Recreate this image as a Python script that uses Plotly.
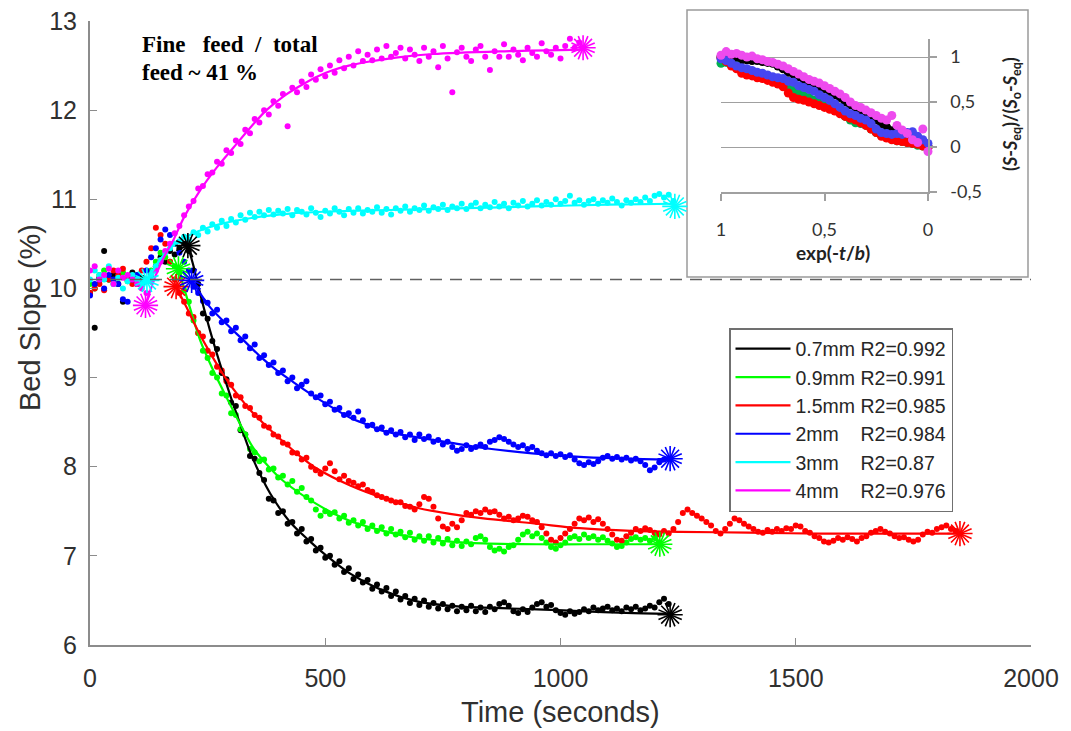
import plotly.graph_objects as go

# ---------------- main chart data ----------------
series_names = ["0.7mm R2=0.992", "0.9mm R2=0.991", "1.5mm R2=0.985",
                "2mm\u00a0\u00a0\u00a0\u00a0R2=0.984", "3mm\u00a0\u00a0\u00a0\u00a0R2=0.87",
                "4mm\u00a0\u00a0\u00a0\u00a0R2=0.976"]
series_colors = ["#000000", "#00FF00", "#FF0000", "#0000FF", "#00FFFF", "#FF00FF"]

# measured dots (10 s sampling): pre-period starting at t=0, post-period at given start
black_pre = [9.95, 9.56, 10.12, 10.42, 10.1, 10.15, 10.05, 9.85, 10.1, 10.18, 10.05,
             10.12, 10.08, 10.15, 10.25, 10.35, 10.3, 10.42, 10.38, 10.45, 10.5]
black_post_start = 210
black_post = [10.42, 10.2, 10.05, 9.72, 9.66, 9.41, 9.32, 9.05, 8.98, 8.72, 8.68, 8.41, 8.36,
              8.12, 8.09, 7.93, 7.85, 7.64, 7.62, 7.48, 7.5, 7.36, 7.38, 7.25, 7.3, 7.16, 7.19,
              7.06, 7.09, 6.98, 7.0, 6.9, 6.94, 6.82, 6.86, 6.74, 6.79, 6.7, 6.73, 6.63, 6.68,
              6.6, 6.64, 6.55, 6.6, 6.51, 6.55, 6.47, 6.52, 6.45, 6.5, 6.43, 6.47, 6.41, 6.46,
              6.4, 6.44, 6.38, 6.43, 6.39, 6.44, 6.38, 6.42, 6.37, 6.43, 6.4, 6.46, 6.48, 6.44,
              6.38, 6.36, 6.4, 6.37, 6.42, 6.46, 6.48, 6.43, 6.45, 6.39, 6.36, 6.34, 6.38, 6.35,
              6.37, 6.4, 6.38, 6.42, 6.39, 6.41, 6.43, 6.39, 6.41, 6.38, 6.42, 6.4, 6.43, 6.39,
              6.41, 6.44, 6.42, 6.48, 6.52, 6.46]

green_pre = [10.05, 10.0, 10.15, 10.2, 10.1, 10.05, 10.12, 10.18, 10.08, 10.1, 10.15, 10.05,
             10.1, 10.2, 10.3, 10.4, 10.35, 10.3, 10.25]
green_post_start = 190
green_post = [10.18, 9.98, 9.85, 9.64, 9.5, 9.3, 9.22, 9.05, 9.0, 8.82, 8.8, 8.6, 8.58, 8.42,
              8.36, 8.2, 8.16, 8.06, 8.08, 7.97, 7.98, 7.88, 7.9, 7.8, 7.84, 7.72, 7.76, 7.66,
              7.62, 7.52, 7.45, 7.5, 7.47, 7.49, 7.42, 7.45, 7.37, 7.4, 7.34, 7.38, 7.3, 7.34,
              7.28, 7.32, 7.25, 7.3, 7.24, 7.27, 7.21, 7.26, 7.18, 7.22, 7.17, 7.22, 7.15, 7.2,
              7.14, 7.19, 7.12, 7.17, 7.11, 7.16, 7.13, 7.2, 7.22, 7.18, 7.1, 7.06, 7.08, 7.05,
              7.1, 7.12, 7.18, 7.24, 7.27, 7.22, 7.25, 7.2, 7.15, 7.1, 7.08, 7.12, 7.15, 7.2,
              7.22, 7.19, 7.24, 7.2, 7.22, 7.18, 7.21, 7.17, 7.14, 7.1, 7.11, 7.15, 7.19, 7.21,
              7.18, 7.2, 7.17, 7.2, 7.15]

red_pre = [9.95, 10.0, 10.05, 9.98, 10.1, 10.2, 10.15, 10.22, 10.1, 10.05, 10.12, 10.2, 10.3,
           10.45, 10.68, 10.6, 10.5, 10.3, 10.1]
red_post_start = 190
red_post = [9.95, 9.85, 9.72, 9.68, 9.5, 9.46, 9.3, 9.26, 9.12, 9.08, 8.96, 8.92, 8.8, 8.78,
            8.68, 8.66, 8.58, 8.55, 8.46, 8.44, 8.36, 8.34, 8.27, 8.25, 8.16, 8.15, 8.08, 8.1,
            8.0, 7.96, 7.92, 7.98, 8.04, 7.95, 7.86, 7.9, 7.84, 7.82, 7.78, 7.8, 7.74, 7.72,
            7.68, 7.66, 7.64, 7.62, 7.6, 7.6, 7.56, 7.55, 7.52, 7.58, 7.66, 7.64, 7.55, 7.42,
            7.33, 7.3, 7.36, 7.32, 7.4, 7.48, 7.46, 7.5, 7.48, 7.52, 7.49, 7.5, 7.46, 7.42,
            7.44, 7.4, 7.42, 7.45, 7.44, 7.4, 7.38, 7.32, 7.25, 7.18, 7.15, 7.2, 7.25, 7.3,
            7.36, 7.42, 7.4, 7.43, 7.38, 7.41, 7.36, 7.3, 7.24, 7.18, 7.17, 7.22, 7.26, 7.3,
            7.28, 7.31, 7.29, 7.26, 7.24, 7.28, 7.25, 7.3, 7.38, 7.48, 7.52, 7.48, 7.45, 7.42,
            7.38, 7.34, 7.28, 7.25, 7.3, 7.36, 7.42, 7.4, 7.36, 7.33, 7.3, 7.27, 7.26, 7.29,
            7.27, 7.3, 7.28, 7.31, 7.3, 7.34, 7.33, 7.28, 7.26, 7.22, 7.2, 7.16, 7.15, 7.17,
            7.2, 7.18, 7.21, 7.19, 7.16, 7.2, 7.22, 7.26, 7.28, 7.3, 7.27, 7.25, 7.22, 7.2,
            7.21, 7.18, 7.16, 7.18, 7.24, 7.27, 7.26, 7.3, 7.32, 7.34, 7.3, 7.28]

blue_pre = [9.92, 10.05, 10.1, 10.0, 10.15, 10.1, 10.05, 9.88, 9.85, 10.1, 10.15, 10.05, 10.2,
            10.35, 10.45, 10.55, 10.66, 10.6, 10.5, 10.4, 10.3, 10.2]
blue_post_start = 220
blue_post = [10.02, 9.95, 9.86, 9.84, 9.72, 9.76, 9.62, 9.64, 9.52, 9.56, 9.42, 9.46, 9.33,
             9.37, 9.22, 9.25, 9.14, 9.17, 9.05, 9.08, 8.96, 9.0, 8.88, 8.92, 8.96, 8.82, 8.78,
             8.8, 8.7, 8.73, 8.64, 8.66, 8.58, 8.6, 8.55, 8.62, 8.52, 8.46, 8.47, 8.42, 8.44,
             8.38, 8.41, 8.36, 8.39, 8.33, 8.36, 8.3, 8.36, 8.31, 8.34, 8.28, 8.3, 8.25, 8.28,
             8.22, 8.18, 8.2, 8.24, 8.2, 8.22, 8.25, 8.22, 8.28, 8.3, 8.33, 8.31, 8.28, 8.25,
             8.22, 8.24, 8.2, 8.22, 8.18, 8.15, 8.13, 8.15, 8.12, 8.14, 8.11, 8.13, 8.08, 8.04,
             8.02, 8.05, 8.03, 8.06, 8.1, 8.12, 8.09, 8.11, 8.08, 8.1, 8.07, 8.09, 8.06, 8.02,
             7.96, 7.99, 8.05, 8.08, 8.09]

cyan_pre = [10.1, 10.2, 10.15, 10.1, 10.25, 10.05, 10.12, 10.0, 10.08, 10.15, 10.1, 10.05, 10.08]
cyan_post_start = 130
cyan_post = [10.15, 10.25, 10.32, 10.4, 10.45, 10.5, 10.53, 10.58, 10.55, 10.63, 10.6, 10.68,
             10.64, 10.72, 10.68, 10.76, 10.7, 10.78, 10.74, 10.82, 10.77, 10.85, 10.8, 10.86,
             10.82, 10.88, 10.83, 10.87, 10.84, 10.89, 10.82, 10.88, 10.86, 10.83, 10.9, 10.85,
             10.8, 10.87, 10.84, 10.9, 10.86, 10.82, 10.89, 10.85, 10.9, 10.84, 10.88, 10.86,
             10.91, 10.85, 10.89, 10.83, 10.9, 10.87, 10.92, 10.86, 10.9, 10.88, 10.93, 10.87,
             10.91, 10.89, 10.94, 10.88, 10.92, 10.9, 10.95, 10.89, 10.93, 10.96, 10.9, 10.94,
             10.91, 10.97, 10.92, 10.95, 10.9, 10.96, 10.93, 10.98, 10.92, 10.95, 10.99, 10.93,
             10.97, 10.94, 11.0, 10.95, 10.98, 11.04, 10.96, 10.99, 10.94, 10.98, 11.0, 10.95,
             10.99, 10.96, 11.01, 10.97, 10.93, 10.99, 10.96, 11.0, 10.97, 11.02, 10.98, 11.04,
             11.06, 11.02, 11.05, 10.98]

magenta_pre = [10.2, 10.25, 10.1, 10.15, 10.22, 10.05, 10.2, 10.12, 10.15, 10.1, 10.05, 10.0]
magenta_post_start = 120
magenta_post = [9.95, 10.08, 10.2, 10.3, 10.42, 10.5, 10.62, 10.7, 10.82, 10.92, 10.98, 11.12,
                11.15, 11.28, 11.3, 11.42, 11.4, 11.55, 11.52, 11.66, 11.62, 11.78, 11.74, 11.9,
                11.86, 12.0, 11.95, 12.1, 12.05, 12.18, 11.82, 12.25, 12.2, 12.32, 12.26, 12.4,
                12.34, 12.46, 12.38, 12.5, 12.42, 12.56, 12.47, 12.6, 12.5, 12.66, 12.55, 12.62,
                12.56, 12.68, 12.58, 12.72, 12.6, 12.64, 12.7, 12.58, 12.68, 12.62, 12.55, 12.7,
                12.6, 12.66, 12.48, 12.72, 12.58, 12.2, 12.65, 12.7, 12.6, 12.55, 12.68, 12.72,
                12.6, 12.45, 12.66, 12.6, 12.74, 12.6, 12.68, 12.62, 12.56, 12.7, 12.64, 12.6,
                12.75, 12.66, 12.62, 12.7, 12.58, 12.72, 12.8, 12.7, 12.76]

# fitted exponential curves (read at selected times)
black_fit_t = [208, 220, 235, 255, 276, 298, 319, 340, 361, 383, 425, 468, 496, 553, 623, 695, 765, 836, 950, 1041, 1140, 1233]
black_fit_v = [10.48, 10.25, 9.92, 9.53, 9.16, 8.8, 8.48, 8.17, 7.92, 7.7, 7.38, 7.16, 7.03, 6.8, 6.61, 6.49, 6.44, 6.42, 6.4, 6.38, 6.36, 6.35]
green_fit_t = [188, 212, 234, 262, 290, 319, 347, 380, 411, 482, 553, 623, 695, 765, 836, 950, 1050, 1211]
green_fit_v = [10.22, 9.79, 9.42, 9.08, 8.78, 8.48, 8.21, 8.0, 7.84, 7.58, 7.39, 7.28, 7.2, 7.16, 7.14, 7.13, 7.13, 7.13]
red_fit_t = [183, 206, 230, 255, 290, 315, 340, 370, 411, 446, 482, 553, 623, 695, 765, 836, 950, 1041, 1150, 1254, 1400, 1550, 1849]
red_fit_v = [10.02, 9.78, 9.52, 9.28, 8.98, 8.8, 8.64, 8.48, 8.28, 8.12, 7.98, 7.79, 7.65, 7.54, 7.47, 7.42, 7.36, 7.31, 7.28, 7.27, 7.26, 7.25, 7.25]
blue_fit_t = [216, 255, 290, 326, 361, 397, 432, 468, 510, 553, 590, 623, 660, 695, 765, 836, 940, 1041, 1140, 1233]
blue_fit_v = [10.09, 9.79, 9.6, 9.42, 9.24, 9.08, 8.95, 8.82, 8.68, 8.55, 8.47, 8.4, 8.36, 8.33, 8.27, 8.21, 8.15, 8.11, 8.09, 8.08]
cyan_fit_t = [121, 150, 180, 212, 250, 283, 355, 425, 495, 637, 800, 942, 1100, 1243]
cyan_fit_v = [10.09, 10.33, 10.5, 10.6, 10.68, 10.73, 10.8, 10.84, 10.86, 10.88, 10.9, 10.92, 10.94, 10.95]
magenta_fit_t = [118, 140, 160, 177, 200, 234, 270, 305, 340, 375, 410, 446, 480, 517, 550, 588, 650, 729, 871, 1048]
magenta_fit_v = [9.82, 10.15, 10.38, 10.54, 10.8, 11.1, 11.36, 11.58, 11.8, 12.0, 12.15, 12.27, 12.37, 12.45, 12.5, 12.54, 12.59, 12.63, 12.66, 12.68]

# start / end markers (asterisks)
start_t = [208, 188, 183, 216, 121, 118]
start_v = [10.48, 10.22, 10.02, 10.09, 10.09, 9.81]
end_t = [1233, 1211, 1849, 1233, 1243, 1048]
end_v = [6.34, 7.13, 7.25, 8.09, 10.92, 12.70]

x_ticks = [0, 500, 1000, 1500, 2000]
y_ticks = [6, 7, 8, 9, 10, 11, 12, 13]
reference_slope = 10.1

# ---------------- inset data ----------------
inset_x = [1.0, 0.975, 0.95, 0.925, 0.9, 0.875, 0.85, 0.825, 0.8, 0.775, 0.75, 0.725, 0.7, 0.675,
           0.65, 0.625, 0.6, 0.575, 0.55, 0.525, 0.5, 0.475, 0.45, 0.425, 0.4, 0.375, 0.35, 0.325,
           0.3, 0.275, 0.25, 0.225, 0.2, 0.175, 0.15, 0.125, 0.1, 0.075, 0.05, 0.025, 0.0]
inset_black = [1.0, 0.99, 0.98, 0.99, 0.97, 0.97, 0.96, 0.96, 0.95, 0.94, 0.93, 0.9, 0.87, 0.83,
               0.81, 0.78, 0.75, 0.72, 0.7, 0.67, 0.65, 0.62, 0.58, 0.55, 0.5, 0.47, 0.44, 0.4,
               0.37, 0.34, 0.3, 0.26, 0.22, 0.18, 0.15, 0.12, 0.09, 0.06, 0.04, 0.02, 0.0]
inset_green = [0.93, 0.94, 0.92, 0.9, 0.87, 0.85, 0.83, 0.81, 0.8, 0.78, 0.76, 0.74, 0.72, 0.68,
               0.64, 0.6, 0.57, 0.55, 0.52, 0.5, 0.47, 0.44, 0.41, 0.38, 0.34, 0.3, 0.27, 0.26,
               0.24, 0.2, 0.16, 0.13, 0.11, 0.09, 0.07, 0.06, 0.05, 0.04, 0.02, 0.01, 0.0]
inset_red = [0.99, 0.95, 0.9, 0.87, 0.82, 0.8, 0.79, 0.77, 0.76, 0.74, 0.72, 0.7, 0.67, 0.6,
             0.55, 0.53, 0.52, 0.5, 0.48, 0.46, 0.44, 0.42, 0.4, 0.37, 0.34, 0.32, 0.3, 0.27,
             0.24, 0.2, 0.16, 0.12, 0.1, 0.08, 0.07, 0.06, 0.05, 0.04, 0.03, 0.01, 0.0]
inset_blue = [0.98, 0.96, 0.93, 0.9, 0.88, 0.87, 0.85, 0.83, 0.82, 0.8, 0.78, 0.77, 0.76, 0.73,
              0.72, 0.68, 0.66, 0.64, 0.62, 0.58, 0.55, 0.52, 0.48, 0.44, 0.4, 0.37, 0.35, 0.32,
              0.3, 0.26, 0.2, 0.16, 0.15, 0.14, 0.15, 0.14, 0.16, 0.17, 0.12, 0.08, 0.04]
inset_pink = [1.02, 1.06, 1.03, 1.04, 1.02, 1.0, 1.01, 0.98, 0.97, 0.95, 0.94, 0.92, 0.9, 0.87,
              0.84, 0.81, 0.78, 0.75, 0.73, 0.71, 0.68, 0.65, 0.62, 0.59, 0.55, 0.5, 0.46, 0.44,
              0.41, 0.38, 0.35, 0.32, 0.3, 0.35, 0.24, 0.19, 0.15, 0.08, 0.05, 0.2, -0.05]
inset_colors = ["#000000", "#00B050", "#FF0000", "#4646F0", "#EE4BEE"]
inset_xticks = [1, 0.5, 0]
inset_xticktext = ["1", "0,5", "0"]
inset_yticks = [-0.5, 0, 0.5, 1]
inset_yticktext = ["-0,5", "0", "0,5", "1"]

# ---------------- build figure ----------------
W, H = 1071, 731
ML, MR, MT, MB = 90, 40, 21, 86
PW, PH = W - ML - MR, H - MT - MB


def px_x(px):
    return (px - ML) / PW


def px_y(py):
    return (H - MB - py) / PH


fig = go.Figure()

pre_lists = [black_pre, green_pre, red_pre, blue_pre, cyan_pre, magenta_pre]
post_lists = [black_post, green_post, red_post, blue_post, cyan_post, magenta_post]
post_starts = [black_post_start, green_post_start, red_post_start, blue_post_start,
               cyan_post_start, magenta_post_start]
fit_ts = [black_fit_t, green_fit_t, red_fit_t, blue_fit_t, cyan_fit_t, magenta_fit_t]
fit_vs = [black_fit_v, green_fit_v, red_fit_v, blue_fit_v, cyan_fit_v, magenta_fit_v]

for i in range(6):
    pre = pre_lists[i]
    post = post_lists[i]
    t_pre = [10 * k for k in range(len(pre))]
    t_post = [post_starts[i] + 10 * k for k in range(len(post))]
    fig.add_trace(go.Scatter(x=t_pre + t_post, y=pre + post, mode="markers",
                             marker=dict(size=6, color=series_colors[i]),
                             showlegend=False, hoverinfo="skip"))

for i in range(6):
    fig.add_trace(go.Scatter(x=fit_ts[i], y=fit_vs[i], mode="lines",
                             line=dict(color=series_colors[i], width=2.2, shape="spline", smoothing=0.8),
                             name=series_names[i], showlegend=True))

for i in range(6):
    for ang in (0, 22.5):
        fig.add_trace(go.Scatter(x=[start_t[i], end_t[i]], y=[start_v[i], end_v[i]], mode="markers",
                                 marker=dict(symbol="asterisk-open", size=21, angle=ang,
                                             color=series_colors[i],
                                             line=dict(color=series_colors[i], width=1.6)),
                                 showlegend=False, hoverinfo="skip", cliponaxis=False))

# inset traces
for ys, col in zip([inset_black, inset_green, inset_red, inset_blue, inset_pink], inset_colors):
    fig.add_trace(go.Scatter(x=inset_x, y=ys, xaxis="x2", yaxis="y2", mode="markers",
                             marker=dict(size=9, color=col), showlegend=False,
                             cliponaxis=False, hoverinfo="skip"))

axis_gray = "#8c8c8c"
tick_font = dict(family="Liberation Sans, Arial, sans-serif", size=25, color="#303030")
inset_font = dict(family="Lato, Carlito, sans-serif", size=18, color="#333333")
note_font = dict(family="Liberation Serif, Times New Roman, serif", size=23, color="black")

fig.update_layout(
    width=W, height=H,
    margin=dict(l=ML, r=MR, t=MT, b=MB, autoexpand=False),
    paper_bgcolor="white", plot_bgcolor="white",
    xaxis=dict(range=[0, 2000], domain=[0, 1], showgrid=False, zeroline=False, automargin=False,
               showline=True, linecolor=axis_gray, linewidth=2,
               ticks="inside", ticklen=7, tickwidth=1.2, tickcolor=axis_gray,
               tickvals=x_ticks, tickfont=tick_font, ticklabelstandoff=10),
    yaxis=dict(range=[6, 13], domain=[0, 1], showgrid=False, zeroline=False, automargin=False,
               showline=True, linecolor=axis_gray, linewidth=2,
               ticks="inside", ticklen=7, tickwidth=1.2, tickcolor=axis_gray,
               tickvals=y_ticks, tickfont=tick_font, ticklabelstandoff=6),
    xaxis2=dict(domain=[px_x(721), px_x(928)], range=[1, 0], anchor="y2", automargin=False,
                showgrid=False, zeroline=False, showline=True, linecolor="#a0a0a0", linewidth=1.5,
                ticks="outside", ticklen=7, tickcolor="#a0a0a0", tickwidth=1.5,
                tickvals=inset_xticks, ticktext=inset_xticktext, tickfont=inset_font,
                ticklabelstandoff=14),
    yaxis2=dict(domain=[px_y(192), px_y(39)], range=[-0.5, 1.2], anchor="x2", side="right",
                automargin=False,
                showgrid=True, gridcolor="#a0a0a0", gridwidth=1.2, zeroline=False,
                showline=True, linecolor="#a0a0a0", linewidth=1.5,
                ticks="outside", ticklen=7, tickcolor="#a0a0a0", tickwidth=1.5,
                tickvals=inset_yticks, ticktext=inset_yticktext, tickfont=inset_font,
                ticklabelstandoff=10),
    legend=dict(x=px_x(729), y=px_y(328), xanchor="left", yanchor="top",
                bgcolor="white", bordercolor="#707070", borderwidth=1.5,
                font=dict(family="Liberation Sans, Arial, sans-serif", size=19.5, color="#262626"),
                itemwidth=55, tracegroupgap=0),
    shapes=[
        dict(type="rect", xref="paper", yref="paper", x0=px_x(687), x1=px_x(1028),
             y0=px_y(277), y1=px_y(10), fillcolor="white",
             line=dict(color="#9a9a9a", width=1.5), layer="below"),
        dict(type="line", xref="x", yref="y", x0=0, x1=2000, y0=reference_slope, y1=reference_slope,
             line=dict(color="#606060", width=1.6, dash="12px,8px"), layer="above"),
    ],
    annotations=[
        dict(text="Time (seconds)", xref="paper", yref="paper", x=0.5, y=px_y(712),
             showarrow=False, xanchor="center", yanchor="middle",
             font=dict(family="Liberation Sans, Arial, sans-serif", size=29, color="#303030")),
        dict(text="Bed Slope (%)", xref="paper", yref="paper", x=px_x(30), y=px_y(318),
             showarrow=False, xanchor="center", yanchor="middle", textangle=-90,
             font=dict(family="Liberation Sans, Arial, sans-serif", size=29, color="#303030")),
        dict(text="<b>Fine\u00a0\u00a0\u00a0feed\u00a0\u00a0/\u00a0\u00a0total</b>", xref="paper", yref="paper",
             x=px_x(140), y=px_y(45), showarrow=False, xanchor="left", yanchor="middle",
             font=note_font),
        dict(text="<b>feed ~ 41 %</b>", xref="paper", yref="paper",
             x=px_x(140), y=px_y(72), showarrow=False, xanchor="left", yanchor="middle",
             font=note_font),
        dict(text="<b>exp(-<i>t</i>/<i>b</i>)</b>", xref="paper", yref="paper",
             x=px_x(833), y=px_y(252), showarrow=False, xanchor="center", yanchor="middle",
             font=dict(family="Lato, Carlito, sans-serif", size=19, color="#222222")),
        dict(text="<b>(<i>S</i>-<i>S</i><sub>eq</sub>)/(<i>S</i><sub>o</sub>-<i>S</i><sub>eq</sub>)</b>",
             xref="paper", yref="paper", x=px_x(1011), y=px_y(114), showarrow=False,
             xanchor="center", yanchor="middle", textangle=-90,
             font=dict(family="Lato, Carlito, sans-serif", size=18, color="#222222")),
    ],
)

fig.write_html("out.html", config={"displayModeBar": False},
               post_script="document.body.style.margin='0';document.body.style.padding='0';")
